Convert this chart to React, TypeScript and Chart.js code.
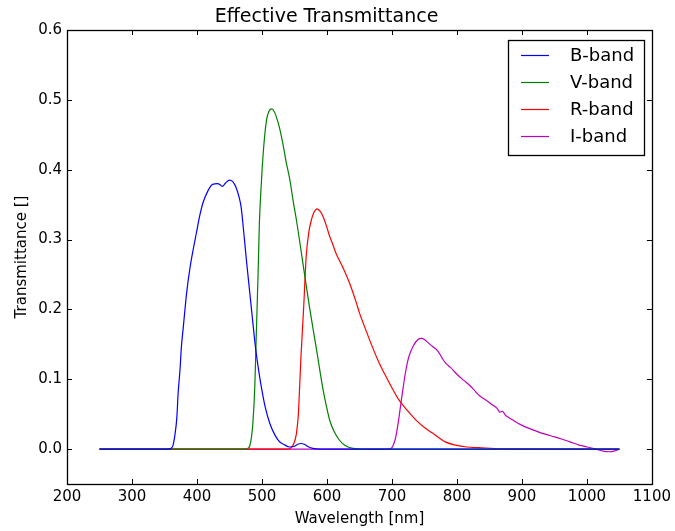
import React, { useEffect, useRef } from "react";
import { Chart, registerables } from "chart.js";

Chart.register(...registerables);

const titleText = "Effective Transmittance";
const xTitle = "Wavelength [nm]";
const yTitle = "Transmittance []";
const xTicks = [200, 300, 400, 500, 600, 700, 800, 900, 1000, 1100];
const yTicks = [0.0, 0.1, 0.2, 0.3, 0.4, 0.5, 0.6];

const bandLabels = ["B-band", "V-band", "R-band", "I-band"];
const bandColors = ["#0000ff", "#008000", "#ff0000", "#bf00bf"];

const bWave = [250, 355, 360, 363, 366, 369, 371, 374, 376, 379, 384, 389, 394, 399, 404, 409, 417, 424, 432, 436, 439, 444, 450, 455, 460, 465, 468, 472, 476, 480, 484, 490, 495, 499, 505, 512, 520, 527, 535, 542, 550, 555, 560, 565, 572, 578, 590, 1050];
const bValue = [0, 0, 0.001, 0.005, 0.02, 0.045, 0.08, 0.115, 0.146, 0.175, 0.223, 0.258, 0.285, 0.309, 0.333, 0.352, 0.370, 0.379, 0.380, 0.378, 0.376, 0.381, 0.385, 0.383, 0.375, 0.36, 0.346, 0.31, 0.271, 0.235, 0.199, 0.146, 0.112, 0.089, 0.06, 0.037, 0.02, 0.0105, 0.006, 0.003, 0.004, 0.007, 0.008, 0.007, 0.003, 0.001, 0, 0];

const vWave = [250, 475, 478, 481, 484, 486, 489, 491, 494, 496, 499, 502, 507, 511, 515, 519, 522, 527, 532, 537, 543, 548, 553, 563, 573, 584, 594, 599, 604, 611, 619, 628, 640, 660, 1050];
const vValue = [0, 0, 0.001, 0.004, 0.018, 0.037, 0.09, 0.156, 0.25, 0.323, 0.38, 0.425, 0.471, 0.484, 0.487, 0.483, 0.476, 0.46, 0.438, 0.412, 0.385, 0.355, 0.328, 0.266, 0.204, 0.142, 0.085, 0.062, 0.042, 0.025, 0.013, 0.005, 0.001, 0, 0];

const rWave = [250, 540, 545, 549, 553, 556, 558, 560, 564, 568, 572, 576, 580, 585, 590, 594, 599, 604, 609, 614, 624, 635, 645, 650, 660, 670, 680, 691, 701, 711, 724, 737, 750, 763, 783, 798, 815, 834, 870, 1050];
const rValue = [0, 0, 0.002, 0.008, 0.022, 0.05, 0.09, 0.132, 0.2, 0.275, 0.31, 0.328, 0.339, 0.344, 0.34, 0.333, 0.32, 0.305, 0.293, 0.280, 0.261, 0.237, 0.21, 0.195, 0.17, 0.146, 0.124, 0.1035, 0.086, 0.070, 0.055, 0.0415, 0.031, 0.0225, 0.01, 0.0057, 0.003, 0.002, 0.0005, 0];

const iWave = [250, 695, 700, 703, 706, 710, 713, 716, 720, 724, 727, 733, 740, 745, 750, 756, 763, 768, 773, 778, 783, 790, 797, 804, 811, 819, 826, 834, 845, 855, 862, 866, 870, 875, 880, 886, 898, 911, 924, 937, 950, 962, 975, 988, 1000, 1014, 1025, 1034, 1043, 1050];
const iValue = [0, 0, 0.002, 0.008, 0.018, 0.04, 0.06, 0.08, 0.105, 0.125, 0.135, 0.148, 0.157, 0.1585, 0.157, 0.152, 0.1465, 0.143, 0.137, 0.129, 0.1227, 0.117, 0.11, 0.1035, 0.098, 0.0917, 0.085, 0.077, 0.07, 0.063, 0.058, 0.053, 0.054, 0.048, 0.045, 0.0415, 0.035, 0.0296, 0.025, 0.021, 0.0175, 0.014, 0.01, 0.0057, 0.003, 0.0, -0.003, -0.0038, -0.0025, 0];

const bandWaves = [bWave, vWave, rWave, iWave];
const bandValues = [bValue, vValue, rValue, iValue];

const FONT = "'DejaVu Sans', sans-serif";

const framePlugin = {
  id: "mplFrame",
  afterDraw(chart: any) {
    const { ctx, chartArea } = chart;
    const { left, right, top, bottom } = chartArea;
    const xs = chart.scales.x;
    const ys = chart.scales.y;
    ctx.save();
    ctx.strokeStyle = "#000";
    ctx.lineWidth = 1;
    const L = 5;
    ctx.beginPath();
    for (const v of xTicks) {
      const px = Math.round(xs.getPixelForValue(v)) + 0.5;
      ctx.moveTo(px, bottom);
      ctx.lineTo(px, bottom - L);
      ctx.moveTo(px, top);
      ctx.lineTo(px, top + L);
    }
    for (const v of yTicks) {
      const py = Math.round(ys.getPixelForValue(v)) + 0.5;
      ctx.moveTo(left, py);
      ctx.lineTo(left + L, py);
      ctx.moveTo(right, py);
      ctx.lineTo(right - L, py);
    }
    ctx.stroke();
    ctx.lineWidth = 1.3;
    ctx.strokeRect(Math.round(left) + 0.5, Math.round(top) + 0.5, Math.round(right - left), Math.round(bottom - top));

    // legend
    const lx = 508, ly = 40, lw = 136, lh = 115;
    ctx.fillStyle = "#fff";
    ctx.fillRect(lx, ly, lw, lh);
    ctx.lineWidth = 1.3;
    ctx.strokeStyle = "#000";
    ctx.strokeRect(lx + 0.5, ly + 0.5, lw, lh);
    ctx.font = "18px " + FONT;
    ctx.textBaseline = "middle";
    ctx.textAlign = "left";
    chart.data.datasets.forEach((ds: any, i: number) => {
      const y = 55 + i * 27;
      ctx.strokeStyle = ds.borderColor;
      ctx.lineWidth = 1.2;
      ctx.beginPath();
      ctx.moveTo(521, y + 0.5);
      ctx.lineTo(549, y + 0.5);
      ctx.stroke();
      ctx.fillStyle = "#000";
      ctx.fillText(ds.label, 570, y + 1);
    });
    ctx.restore();
  },
};

export default function App() {
  const ref = useRef<HTMLCanvasElement>(null);
  useEffect(() => {
    document.body.style.margin = "0";
    const canvas = ref.current!;
    const datasets = bandLabels.map((label, i) => ({
      label,
      data: bandWaves[i].map((w, j) => ({ x: w, y: bandValues[i][j] })),
      borderColor: bandColors[i],
      backgroundColor: bandColors[i],
      borderWidth: 1.2,
      pointRadius: 0,
      fill: false,
      cubicInterpolationMode: "monotone" as const,
    }));
    const chart = new Chart(canvas, {
      type: "line",
      data: { datasets },
      options: {
        responsive: false,
        animation: false,
        devicePixelRatio: 1,
        layout: { padding: { top: 0, left: 0, right: 22, bottom: 0 } },
        plugins: {
          legend: { display: false },
          tooltip: { enabled: false },
          title: {
            display: true,
            text: titleText,
            color: "#000",
            font: { family: FONT, size: 19, weight: "normal" },
            padding: { top: 6, bottom: 1.2 },
          },
        },
        scales: {
          x: {
            type: "linear",
            min: 200,
            max: 1100,
            afterBuildTicks: (s: any) => {
              s.ticks = xTicks.map((v) => ({ value: v }));
            },
            afterFit: (s: any) => {
              s.height = 47;
            },
            grid: { display: false, drawTicks: false },
            border: { display: false },
            ticks: {
              color: "#000",
              font: { family: FONT, size: 15 },
              padding: 4,
              maxRotation: 0,
              autoSkip: false,
              callback: (v: any) => String(v),
            },
            title: {
              display: true,
              text: xTitle,
              color: "#000",
              font: { family: FONT, size: 15 },
              padding: { top: 0, bottom: 3 },
            },
          },
          y: {
            type: "linear",
            min: -0.05,
            max: 0.6,
            afterBuildTicks: (s: any) => {
              s.ticks = yTicks.map((v) => ({ value: v }));
            },
            afterFit: (s: any) => {
              s.width = 67;
            },
            grid: { display: false, drawTicks: false },
            border: { display: false },
            ticks: {
              color: "#000",
              font: { family: FONT, size: 15 },
              padding: 5,
              autoSkip: false,
              callback: (v: any) => Number(v).toFixed(1),
            },
            title: {
              display: true,
              text: yTitle,
              color: "#000",
              font: { family: FONT, size: 15 },
              padding: { top: 13, bottom: 0 },
            },
          },
        },
      },
      plugins: [framePlugin],
    });
    return () => chart.destroy();
  }, []);
  return (
    <div style={{ width: 675, height: 531 }}>
      <canvas ref={ref} width={675} height={531} style={{ width: 675, height: 531, display: "block" }} />
    </div>
  );
}
